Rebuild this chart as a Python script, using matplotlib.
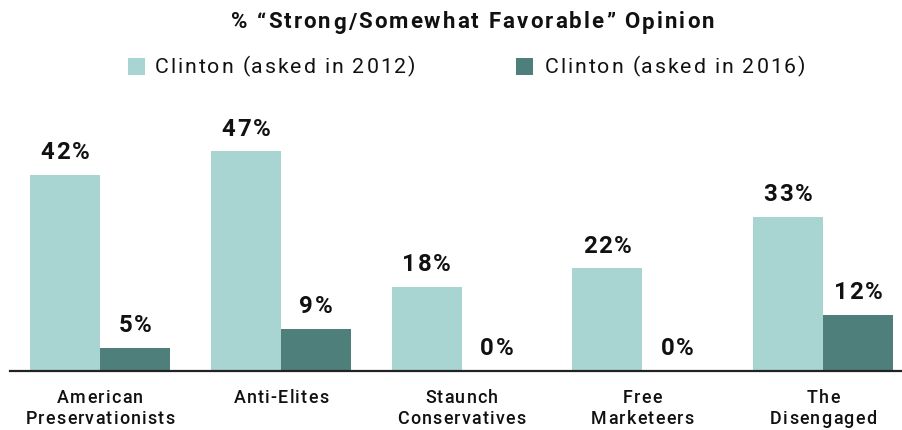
import matplotlib
matplotlib.use("Agg")
import matplotlib.pyplot as plt
import matplotlib.transforms as mtransforms
from matplotlib.font_manager import FontProperties, findfont, get_font
from matplotlib.patches import Rectangle
import numpy as np

categories = ["American\nPreservationists", "Anti-Elites", "Staunch\nConservatives",
              "Free\nMarketeers", "The\nDisengaged"]
asked_2012 = [42, 47, 18, 22, 33]
asked_2016 = [5, 9, 0, 0, 12]
series_names = ["Clinton (asked in 2012)", "Clinton (asked in 2016)"]
title = "% \u201cStrong/Somewhat Favorable\u201d Opinion"

LIGHT = "#a8d5d2"
DARK = "#4e7f7b"
INK = "#111111"
FAMILY = "Roboto"
DPI = 100
W, H = 903, 430

plt.rcParams["font.family"] = [FAMILY, "DejaVu Sans"]

fig = plt.figure(figsize=(W / DPI, H / DPI), dpi=DPI)
ax = fig.add_axes([10 / W, 1 - 371 / H, 893 / W, 271 / H])


def advances(s, size, weight):
    font = get_font(findfont(FontProperties(family=FAMILY, weight=weight)))
    font.set_size(size, DPI)
    return [font.load_char(ord(c)).linearHoriAdvance / 65536 for c in s]


def tracked_text(x, y, s, transform, size, weight="normal", track=0.0,
                 ha="center", dy=0.0, color=INK):
    """Draw s with extra letter spacing (track, in pixels); dy shifts in pixels."""
    adv = advances(s, size, weight)
    total = sum(adv) + track * (len(s) - 1)
    start = {"left": 0.0, "center": -total / 2, "right": -total}[ha]
    pos = start
    for c, a in zip(s, adv):
        if c != " ":
            off = mtransforms.ScaledTranslation(pos / DPI, dy / DPI, fig.dpi_scale_trans)
            fig.text(x, y, c, transform=transform + off, ha="left", va="baseline",
                     fontsize=size, fontweight=weight, color=color)
        pos += a + track


x = np.arange(len(categories))
w = 0.387
b1 = ax.bar(x - w / 2, asked_2012, w, color=LIGHT, label=series_names[0])
b2 = ax.bar(x + w / 2, asked_2016, w, color=DARK, label=series_names[1])

ax.set_xlim(-0.498, 4.442)
ax.set_ylim(0, 58)
for s in ("top", "right", "left"):
    ax.spines[s].set_visible(False)
ax.spines["bottom"].set_linewidth(1.6)
ax.spines["bottom"].set_color("#222222")
ax.set_yticks([])
ax.set_xticks([])

# value labels above each bar
for bars, vals in ((b1, asked_2012), (b2, asked_2016)):
    for r, v in zip(bars, vals):
        tracked_text(r.get_x() + r.get_width() / 2, v, f"{v}%", ax.transData,
                     17.3, "bold", track=1.8, dy=15.7)

# category labels under each group
blend = mtransforms.blended_transform_factory(ax.transData, ax.transAxes)
for i, cat in enumerate(categories):
    for j, line in enumerate(cat.split("\n")):
        tracked_text(x[i], 0, line, blend, 12.9, "medium", track=1.25,
                     dy=-32.3 - 21 * j)

# title
fig_px = mtransforms.Affine2D().scale(1, 1)  # figure pixel coordinates
tracked_text(472.5, H - 28.5, title, fig_px, 16, "bold", track=2.1)

# legend keys and labels
for (kx, tx), bars, name in zip(((128, 155), (516, 545)), (b1, b2), series_names):
    fig.patches.append(Rectangle((kx, H - 74.5), 17, 17, transform=fig_px,
                                 facecolor=bars[0].get_facecolor(), edgecolor="none"))
    tracked_text(tx, H - 72.7, name, fig_px, 15.3, "normal", track=1.9, ha="left")

fig.savefig("out.png", dpi=DPI)
